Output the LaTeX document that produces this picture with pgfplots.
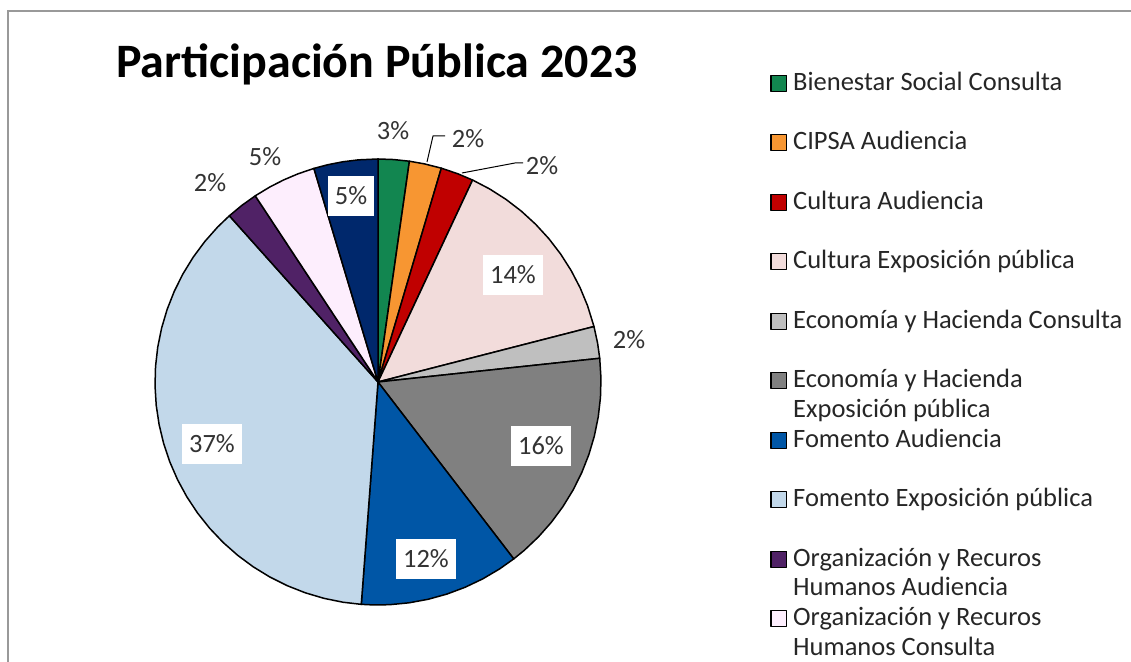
\documentclass[border=0pt]{standalone}
\usepackage{pgfplots}
\pgfplotsset{compat=1.18}
\usepackage{fontspec}
\setmainfont{Carlito}
\definecolor{cBien}{RGB}{18,134,80}
\definecolor{cCipsa}{RGB}{247,150,50}
\definecolor{cCultA}{RGB}{192,0,0}
\definecolor{cCultE}{RGB}{242,220,219}
\definecolor{cEconC}{RGB}{191,191,191}
\definecolor{cEconE}{RGB}{128,128,128}
\definecolor{cFomA}{RGB}{0,86,166}
\definecolor{cFomE}{RGB}{194,216,234}
\definecolor{cOrgA}{RGB}{80,34,102}
\definecolor{cOrgC}{RGB}{253,238,253}
\definecolor{cNavy}{RGB}{0,40,108}
\definecolor{labtxt}{RGB}{51,51,51}
\newcommand\entry[1]{\hspace*{3pt}\parbox[t]{180pt}{\strut #1}}
% shares (percent): 2.26, 2.32, 2.38, 14.04, 2.3, 16.3, 11.6, 37.2, 2.3, 4.7, 4.6
\begin{document}
\begin{tikzpicture}
\useasboundingbox (0,0) rectangle (565.5pt,331pt);
\clip (0,0) rectangle (565.5pt,331pt);
\begin{axis}[at={(0,0)}, anchor=south west, scale only axis,
  width=565.5pt, height=331pt,
  xmin=-378, xmax=753, ymin=-280, ymax=382,
  hide axis, clip=false,
  legend image code/.code={\draw[#1,draw=black,line width=0.6pt] (0pt,-0.5pt) rectangle (7.8pt,7.5pt);},
  legend style={at={(0.6808,0.8960)}, anchor=north west, draw=none, fill=none,
    inner sep=0pt, row sep=0pt,
    nodes={inner sep=0pt, text height=10.5pt, text depth=19.25pt},
    font=\fontsize{13.25}{14.8}\selectfont, text=black!85,
    cells={anchor=base west}},
  every axis plot/.append style={line width=0.75pt, line join=round},
]
\addplot[data cs=polar, fill=cBien, draw=black] coordinates {(0,0) (90,223) (86,223) (81.9,223) (0,0)};
\addplot[data cs=polar, fill=cCipsa, draw=black] coordinates {(0,0) (81.9,223) (78,223) (73.5,223) (0,0)};
\addplot[data cs=polar, fill=cCultA, draw=black] coordinates {(0,0) (73.5,223) (69,223) (64.9,223) (0,0)};
\addplot[data cs=polar, fill=cCultE, draw=black] coordinates {(0,0) (64.9,223) (60,223) (55,223) (50,223) (45,223) (40,223) (35,223) (30,223) (25,223) (20,223) (14.4,223) (0,0)};
\addplot[data cs=polar, fill=cEconC, draw=black] coordinates {(0,0) (14.4,223) (10,223) (6.1,223) (0,0)};
\addplot[data cs=polar, fill=cEconE, draw=black] coordinates {(0,0) (6.1,223) (1,223) (-4,223) (-9,223) (-14,223) (-19,223) (-24,223) (-29,223) (-34,223) (-39,223) (-44,223) (-49,223) (-52.5,223) (0,0)};
\addplot[data cs=polar, fill=cFomA, draw=black] coordinates {(0,0) (-52.5,223) (-57,223) (-62,223) (-67,223) (-72,223) (-77,223) (-82,223) (-87,223) (-91,223) (-94.3,223) (0,0)};
\addplot[data cs=polar, fill=cFomE, draw=black] coordinates {(0,0) (-94.3,223) (-99,223) (-104,223) (-109,223) (-114,223) (-119,223) (-124,223) (-129,223) (-134,223) (-139,223) (-144,223) (-149,223) (-154,223) (-159,223) (-164,223) (-169,223) (-174,223) (-179,223) (-184,223) (-189,223) (-194,223) (-199,223) (-204,223) (-209,223) (-214,223) (-219,223) (-224,223) (-228.2,223) (0,0)};
\addplot[data cs=polar, fill=cOrgA, draw=black] coordinates {(0,0) (-228.2,223) (-232.4,223) (-236.6,223) (0,0)};
\addplot[data cs=polar, fill=cOrgC, draw=black] coordinates {(0,0) (-236.6,223) (-241,223) (-245,223) (-249,223) (-253.3,223) (0,0)};
\addplot[data cs=polar, fill=cNavy, draw=black] coordinates {(0,0) (-253.3,223) (-257,223) (-261,223) (-265,223) (-270,223) (0,0)};
% leader lines
\addplot[forget plot, black, line width=0.5pt] coordinates {(49,220) (55,246) (67,246)};
\addplot[forget plot, black, line width=0.5pt] coordinates {(84,209) (137,219) (145,219)};
\legend{
 {\entry{Bienestar Social Consulta}},
 {\entry{CIPSA Audiencia}},
 {\entry{Cultura Audiencia}},
 {\entry{Cultura Exposición pública}},
 {\entry{Economía y Hacienda Consulta}},
 {\entry{Economía y Hacienda\\Exposición pública}},
 {\entry{Fomento Audiencia}},
 {\entry{Fomento Exposición pública}},
 {\entry{Organización y Recuros\\Humanos Audiencia}},
 {\entry{Organización y Recuros\\Humanos Consulta}}
}
% percentage labels
\begin{scope}[every node/.style={font=\fontsize{13.2}{15}\selectfont, text=labtxt}]
\node at (axis cs:15,251) {3\%};
\node at (axis cs:90,243) {2\%};
\node at (axis cs:164,216) {2\%};
\node[fill=white, inner xsep=3.5pt, minimum height=20pt] at (axis cs:135,107) {14\%};
\node at (axis cs:251,42) {2\%};
\node[fill=white, inner xsep=3.5pt, minimum height=20pt] at (axis cs:163,-64) {16\%};
\node[fill=white, inner xsep=3.5pt, minimum height=20pt] at (axis cs:48,-177) {12\%};
\node[fill=white, inner xsep=3.5pt, minimum height=20pt] at (axis cs:-166,-62) {37\%};
\node at (axis cs:-168,199) {2\%};
\node at (axis cs:-113,225) {5\%};
\node[fill=white, inner xsep=3.5pt, minimum height=20pt] at (axis cs:-27,186) {5\%};
\end{scope}
\node[anchor=base, font=\fontsize{24}{28}\selectfont\bfseries, text=black] at (axis cs:-1,304) {Participación Pública 2023};
\draw[gray!80, line width=0.9pt] (axis cs:-370,-290) -- (axis cs:-370,371) -- (axis cs:760,371);
\end{axis}
\end{tikzpicture}
\end{document}
